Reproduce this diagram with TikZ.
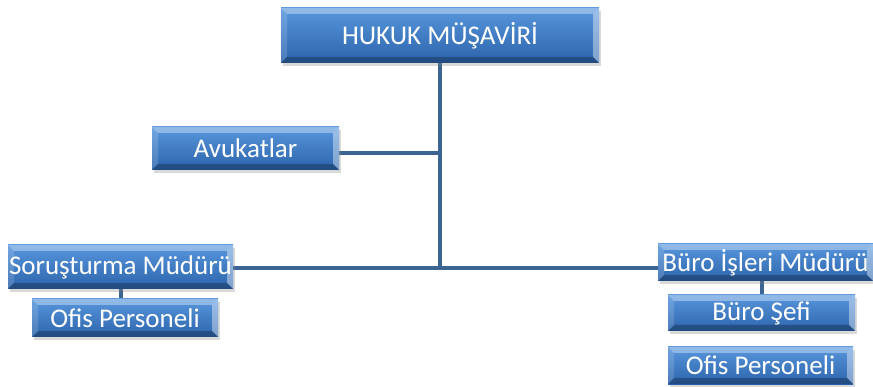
\documentclass[tikz,border=0pt]{standalone}
\usepackage{fontspec}
\setmainfont{Carlito}
\usetikzlibrary{shadows,backgrounds}

\definecolor{boxtop}{HTML}{5896DC}
\definecolor{boxbot}{HTML}{2C64AC}
\definecolor{linkblue}{HTML}{3D6594}

\tikzset{
  orgbox/.style={rectangle, top color=boxtop, bottom color=boxbot,
                 text=white, font=\fontsize{27}{29}\selectfont, inner sep=0pt,
                 drop shadow={shadow xshift=2pt, shadow yshift=-3pt, opacity=0.3},
                 path picture={
                   \fill[white,opacity=0.35] (path picture bounding box.north west) -- (path picture bounding box.north east)
                        -- ([xshift=-6pt,yshift=-6pt]path picture bounding box.north east) -- ([xshift=6pt,yshift=-6pt]path picture bounding box.north west) -- cycle;
                   \fill[white,opacity=0.15] (path picture bounding box.north west) -- ([xshift=6pt,yshift=-6pt]path picture bounding box.north west)
                        -- ([xshift=6pt,yshift=6pt]path picture bounding box.south west) -- (path picture bounding box.south west) -- cycle;
                   \fill[white,opacity=0.4] (path picture bounding box.north east) -- ([xshift=-6pt,yshift=-6pt]path picture bounding box.north east)
                        -- ([xshift=-6pt,yshift=6pt]path picture bounding box.south east) -- (path picture bounding box.south east) -- cycle;
                   \fill[black,opacity=0.25] (path picture bounding box.south west) -- ([xshift=6pt,yshift=6pt]path picture bounding box.south west)
                        -- ([xshift=-6pt,yshift=6pt]path picture bounding box.south east) -- (path picture bounding box.south east) -- cycle;
                 }},
  link/.style={draw=linkblue, line width=4pt}
}

\begin{document}
\begin{tikzpicture}[x=1pt,y=-1pt]
  \useasboundingbox (0,0) rectangle (873,387);

  \node[orgbox, minimum width=318pt, minimum height=55pt] (hukuk) at (440,35.5) {HUKUK MÜŞAVİRİ};
  \node[orgbox, minimum width=187pt, minimum height=43pt] (avukat) at (245.5,148.5) {Avukatlar};
  \node[orgbox, minimum width=225pt, minimum height=44pt] (sorus) at (120.5,267) {Soruşturma Müdürü};
  \node[orgbox, minimum width=186pt, minimum height=38pt] (ofisA) at (125,318) {Ofis Personeli};
  \node[orgbox, minimum width=215pt, minimum height=37pt] (buro) at (765.5,262.5) {Büro İşleri Müdürü};
  \node[orgbox, minimum width=187pt, minimum height=36pt] (sef) at (761.5,313) {Büro Şefi};
  \node[orgbox, minimum width=185pt, minimum height=37pt] (ofisB) at (760.5,365.5) {Ofis Personeli};

  \coordinate (junc) at (440,268);

  % connectors behind the boxes
  \begin{scope}[on background layer]
  \draw[link] (hukuk.south) -- (junc);
  \draw[link] ([yshift=-5pt]avukat.east) -- ([yshift=-5pt]avukat.east -| hukuk.south);
  \draw[link] (sorus.east |- junc) -- (buro.west |- junc);
  \draw[link] (sorus.south) -- (sorus.south |- ofisA.north);
  \draw[link] (sef.north) -- (sef.north |- buro.south);
  \end{scope}

\end{tikzpicture}
\end{document}
